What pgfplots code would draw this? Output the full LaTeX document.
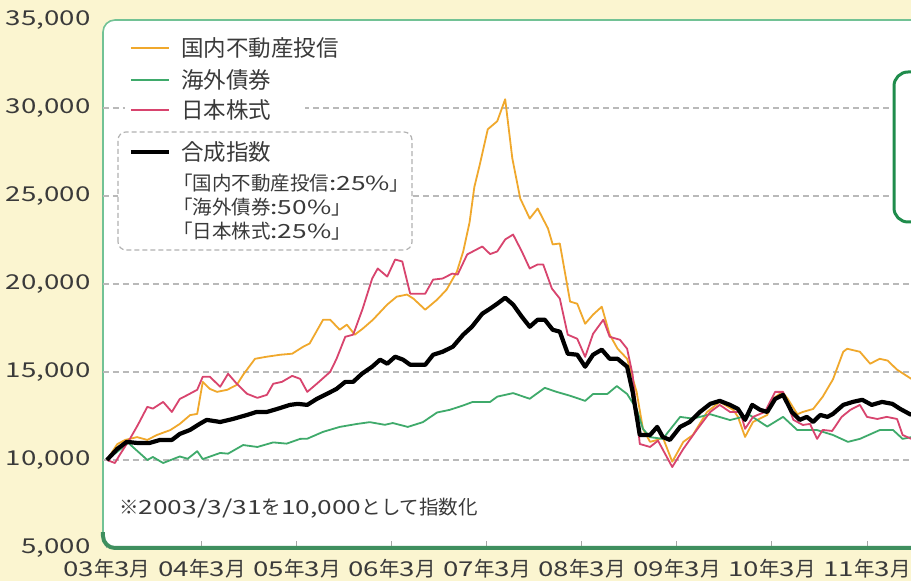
\documentclass[border=0pt]{standalone}
\usepackage{graphicx}
\usepackage{pgfplots}
\pgfplotsset{compat=1.18}
\usepackage{fontspec}
\setmainfont{Noto Sans CJK JP}
\newfontfamily\numfont{Noto Sans CJK JP}[FakeStretch=1.35]
\definecolor{bgyellow}{HTML}{FBF5D0}
\definecolor{reit}{HTML}{F0A82C}
\definecolor{bond}{HTML}{3FAA6B}
\definecolor{stock}{HTML}{D8446E}
\definecolor{framec}{HTML}{72C295}
\definecolor{framedark}{HTML}{3F8F5F}
\definecolor{boxgreen}{HTML}{1F8C4C}
\definecolor{txt}{HTML}{3A3A3A}
\newcommand\ym[2]{{\numfont #1}年{\numfont #2}月}
\begin{document}
\begin{tikzpicture}
\useasboundingbox (0pt,0pt) rectangle (911pt,581pt);
\clip (0pt,0pt) rectangle (911pt,581pt);
\fill[bgyellow] (0pt,0pt) rectangle (911pt,581pt);
\begin{axis}[
  at={(103pt,33pt)}, anchor=south west,
  scale only axis, width=848pt, height=528pt,
  xmin=-0.5, xmax=106.61, ymin=5000, ymax=35000,
  scaled y ticks=false,
  clip mode=individual,
  axis background/.style={fill=white, draw=framec, line width=1.6pt, rounded corners=12pt},
  axis line style={draw=none},
  xtick={0,12,...,96},
  xticklabels={\ym{03}{3},\ym{04}{3},\ym{05}{3},\ym{06}{3},\ym{07}{3},\ym{08}{3},\ym{09}{3},\ym{10}{3},\ym{11}{3}},
  xtick pos=left,
  tick align=inside,
  major tick length=7pt,
  xtick style={draw=gray!70, line width=1pt},
  ytick={5000,10000,...,35000},
  yticklabels={{\numfont 5,000},{\numfont 10,000},{\numfont 15,000},{\numfont 20,000},{\numfont 25,000},{\numfont 30,000},{\numfont 35,000}},
  ytick style={draw=none},
  extra y ticks={10000,15000,20000,25000,30000},
  extra y tick labels={},
  extra y tick style={grid=major},
  major grid style={gray!55, line width=1.2pt, dash pattern=on 6pt off 4pt},
  tick label style={font=\fontsize{20.5}{21}\selectfont, text=txt},
  yticklabel style={xshift=-9pt},
  xticklabel style={yshift=-8pt},
]
\fill[white] (rel axis cs:0.026,0.795) rectangle (rel axis cs:0.238,0.9716);
\draw[gray!60, line width=1.2pt, dash pattern=on 5pt off 3pt, rounded corners=8pt, fill=white]
  (rel axis cs:0.0177,0.5644) rectangle (rel axis cs:0.3644,0.7879);
% legend
\draw[reit, line width=1.8pt] (rel axis cs:0.0330,0.9470) -- (rel axis cs:0.0778,0.9470);
\node[anchor=west, inner sep=0pt, text=txt, font=\fontsize{22.5}{22.5}\selectfont] at (rel axis cs:0.0920,0.9470) {国内不動産投信};
\draw[bond, line width=1.8pt] (rel axis cs:0.0330,0.8864) -- (rel axis cs:0.0778,0.8864);
\node[anchor=west, inner sep=0pt, text=txt, font=\fontsize{22.5}{22.5}\selectfont] at (rel axis cs:0.0920,0.8864) {海外債券};
\draw[stock, line width=1.8pt] (rel axis cs:0.0330,0.8295) -- (rel axis cs:0.0778,0.8295);
\node[anchor=west, inner sep=0pt, text=txt, font=\fontsize{22.5}{22.5}\selectfont] at (rel axis cs:0.0920,0.8295) {日本株式};
\draw[black, line width=4.2pt] (rel axis cs:0.0330,0.7500) -- (rel axis cs:0.0778,0.7500);
\node[anchor=west, inner sep=0pt, text=txt, font=\fontsize{22.5}{22.5}\selectfont] at (rel axis cs:0.0920,0.7500) {合成指数};
\node[anchor=west, inner sep=0pt, text=txt, font=\fontsize{19.5}{19.5}\selectfont] at (rel axis cs:0.0825,0.6913) {「国内不動産投信{\numfont :25\%}」};
\node[anchor=west, inner sep=0pt, text=txt, font=\fontsize{19.5}{19.5}\selectfont] at (rel axis cs:0.0825,0.6458) {「海外債券{\numfont :50\%}」};
\node[anchor=west, inner sep=0pt, text=txt, font=\fontsize{19.5}{19.5}\selectfont] at (rel axis cs:0.0825,0.6004) {「日本株式{\numfont :25\%}」};
\node[anchor=west, inner sep=0pt, text=txt, font=\fontsize{19.5}{19.5}\selectfont] at (rel axis cs:0.0189,0.0758) {※{\numfont 2003/3/31}を{\numfont 10,000}として指数化};

\addplot[reit, line width=1.8pt, line join=round] table {
0 10000
1.3 10900
2.3 11140
3.8 11300
5.1 11140
6.3 11420
8.0 11700
9.2 12050
10.5 12550
11.4 12620
12.1 14440
13.0 14040
13.9 13870
15.2 13990
16.4 14270
17.2 14840
18.7 15750
20.2 15870
21.9 15980
23.4 16040
24.8 16440
25.6 16620
27.3 17970
28.2 17970
29.4 17400
30.3 17690
31.3 17120
32.3 17460
33.6 17970
35.4 18830
36.6 19280
37.9 19400
38.7 19170
40.2 18540
41.7 19110
42.9 19680
44.2 20700
45.0 21850
45.8 23500
46.4 25500
47.1 26800
48.1 28790
49.3 29250
50.3 30500
51.2 27140
52.2 24860
53.4 23720
54.4 24290
55.7 23160
56.3 22250
57.2 22300
58.5 19000
59.4 18880
60.4 17740
61.4 18260
62.5 18710
63.5 17120
64.5 16320
65.7 15750
66.9 13870
67.7 11770
68.6 11030
69.5 11140
70.2 11300
71.4 9900
72.8 11030
74.0 11420
75.8 12730
77.4 13300
79.1 12850
79.7 12450
80.6 11310
81.6 12160
83.4 12560
84.1 13470
85.3 13870
86.0 13470
87.2 12600
87.9 12730
89.2 12900
90.4 13590
91.7 14580
93.0 16150
93.5 16320
95.1 16150
96.4 15470
97.6 15750
98.6 15650
99.8 15130
101.6 14610
};

\addplot[bond, line width=1.8pt, line join=round] table {
0 10000
2.7 10970
5.1 10000
5.8 10170
7.1 9830
9.2 10200
10.2 10070
11.4 10500
12.1 10050
14.3 10400
15.3 10360
17.2 10850
19.0 10740
21.0 11000
22.7 10930
24.4 11200
25.3 11210
27.3 11600
29.4 11880
31.6 12050
33.2 12150
35.1 12000
36.1 12100
38.0 11880
39.9 12150
41.7 12700
43.3 12850
45.0 13100
46.2 13300
48.4 13300
49.3 13600
51.3 13800
53.4 13480
55.3 14100
56.8 13870
58.5 13650
60.4 13360
61.4 13750
63.2 13750
64.4 14200
65.7 13750
66.9 12900
67.7 11770
68.6 11300
70.2 11200
72.4 12450
74.0 12350
76.2 12600
78.7 12270
81.2 12550
83.4 11900
85.4 12450
87.2 11700
89.7 11700
91.7 11420
93.6 11030
95.1 11200
97.6 11700
99.3 11700
100.5 11200
101.6 11300
};

\addplot[stock, line width=1.8pt, line join=round] table {
0 10000
1.0 9830
1.6 10280
2.9 11200
3.9 11990
5.1 13020
5.8 12920
7.1 13300
8.2 12730
9.2 13470
10.2 13700
11.4 13990
12.1 14730
13.0 14730
14.3 14160
15.3 14900
16.4 14330
17.7 13760
19.0 13530
20.2 13700
21.0 14330
22.1 14440
23.4 14780
24.4 14610
25.3 13870
26.5 14330
28.2 15010
29.0 15750
30.1 17000
31.1 17120
32.3 18600
33.5 20310
34.2 20880
35.4 20420
36.4 21390
37.3 21280
38.3 19450
40.2 19450
41.2 20250
42.4 20310
43.6 20590
44.3 20540
45.5 21680
47.4 22130
48.4 21700
49.3 21850
50.3 22530
51.3 22810
52.4 21850
53.4 20880
54.4 21110
55.1 21110
56.2 19740
57.2 19170
58.2 17120
59.4 16890
60.4 15860
61.4 17170
62.7 17970
63.5 17000
64.8 16830
65.7 16320
66.4 14840
67.3 10910
68.6 10740
69.6 11100
71.4 9600
72.8 10630
74.5 11710
76.2 12730
77.4 13130
78.7 12730
80.0 12730
80.6 11770
81.6 12450
83.1 12730
84.4 13870
85.4 13870
86.7 12280
87.9 11990
88.8 12050
89.7 11200
90.4 11710
91.6 11650
92.8 12450
93.9 12850
95.1 13130
96.0 12450
97.3 12330
98.5 12450
99.8 12330
100.5 11420
101.6 11200
};

\addplot[black, line width=4.2pt, line join=round] table {
0 10000
1.3 10630
2.5 11030
3.8 10970
5.4 10970
6.7 11140
8.2 11140
9.2 11480
10.5 11710
11.7 12050
12.6 12280
14.3 12160
15.9 12330
17.7 12560
18.9 12730
20.2 12730
21.5 12900
23.1 13130
24.1 13190
25.3 13130
26.5 13470
27.8 13760
29.0 14040
30.1 14440
31.1 14440
32.2 14900
33.5 15300
34.5 15700
35.4 15470
36.4 15870
37.4 15700
38.3 15410
40.2 15410
41.2 15980
42.4 16150
43.7 16440
45.0 17120
46.1 17570
47.4 18310
48.4 18600
49.3 18880
50.3 19220
51.3 18830
52.4 18140
53.4 17570
54.4 17970
55.3 17970
56.3 17400
57.2 17290
58.2 16040
59.4 15980
60.4 15300
61.4 15980
62.5 16270
63.5 15750
64.5 15750
65.7 15300
66.4 13870
67.3 11420
68.6 11420
69.5 11880
70.2 11310
71.1 11140
72.4 11880
73.6 12160
74.9 12730
76.2 13190
77.4 13360
78.7 13130
79.7 12900
80.6 12280
81.5 13130
82.5 12850
83.4 12730
84.4 13470
85.4 13700
86.5 12730
87.5 12280
88.4 12450
89.2 12160
90.1 12560
91.0 12450
91.7 12620
93.0 13130
94.2 13300
95.4 13420
96.6 13130
97.9 13300
99.2 13190
100.2 12900
101.6 12560
};

\draw[framedark, line width=4pt, rounded corners=12pt] (rel axis cs:0,0.03) |- (rel axis cs:1.05,0);
\end{axis}
\draw[boxgreen, line width=3pt, fill=white, rounded corners=14pt] (894pt,359pt) rectangle (980pt,509pt);
\end{tikzpicture}
\end{document}
